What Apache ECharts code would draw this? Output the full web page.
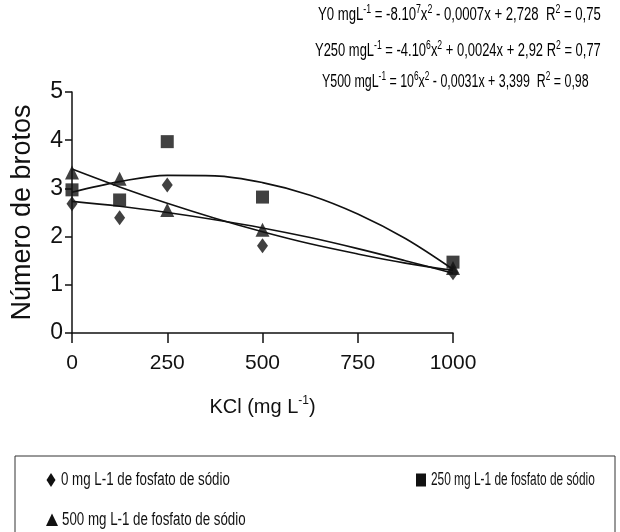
<!DOCTYPE html>
<html>
<head>
<meta charset="utf-8">
<script src="https://cdn.jsdelivr.net/npm/echarts@6/dist/echarts.min.js"></script>
<style>
  html, body { margin: 0; padding: 0; background: #fff; }
  #chart { width: 620px; height: 532px; }
</style>
</head>
<body>
<div id="chart"></div>
<script>
// doses de KCl (mg L-1)
const kcl = [0, 125, 250, 500, 1000]
// número de brotos por dose de fosfato de sódio
const brotos0 = [2.68, 2.39, 3.07, 1.81, 1.25]
const brotos250 = [2.97, 2.76, 3.97, 2.82, 1.47]
const brotos500 = [3.33, 3.2, 2.55, 2.14, 1.35]
// linhas de tendência
const trendX = [0, 125, 250, 375, 500, 625, 750, 875, 1000]
const trend0 = [2.73, 2.63, 2.50, 2.35, 2.18, 1.98, 1.75, 1.50, 1.24]
const trend250 = [2.92, 3.14, 3.27, 3.26, 3.12, 2.86, 2.47, 1.96, 1.32]
const trend500 = [3.40, 3.03, 2.69, 2.38, 2.10, 1.85, 1.64, 1.45, 1.30]

const seriesNames = [
  '0 mg L-1 de fosfato de sódio',
  '250 mg L-1 de fosfato de sódio',
  '500 mg L-1 de fosfato de sódio',
]
const xTicks = [0, 250, 500, 750, 1000]

const font = '"Liberation Sans", Arial, sans-serif'
const ink = '#111'

const pair = (xs, ys) => xs.map((x, i) => [x, ys[i]])

// equações com sobrescritos
const supRich = {
  a: { fontSize: 18, fontFamily: font, color: ink, lineHeight: 23 },
  s: { fontSize: 12, fontFamily: font, color: ink, verticalAlign: 'top' },
}
const equations = [
  '{a|Y0 mgL}{s|-1}{a| = -8.10}{s|7}{a|x}{s|2}{a| - 0,0007x + 2,728  R}{s|2}{a| = 0,75}',
  '{a|Y250 mgL}{s|-1}{a| = -4.10}{s|6}{a|x}{s|2}{a| + 0,0024x + 2,92 R}{s|2}{a| = 0,77}',
  '{a|Y500 mgL}{s|-1}{a| = 10}{s|6}{a|x}{s|2}{a| - 0,0031x + 3,399  R}{s|2}{a| = 0,98}',
]
const eqPos = [[318, 4], [315, 40], [322, 71]]
const eqScale = [0.73, 0.72, 0.69]

const chart = echarts.init(document.getElementById('chart'))

const trendSeries = [trend0, trend250, trend500].map(t => ({
  type: 'line',
  data: pair(trendX, t),
  smooth: 0.35,
  showSymbol: false,
  lineStyle: { color: ink, width: 1.6 },
  silent: true,
  z: 2,
}))

const symbols = ['diamond', 'rect', 'triangle']
const sizes = [[11, 15], 13, 14]
const pointSeries = [brotos0, brotos250, brotos500].map((b, i) => ({
  name: seriesNames[i],
  type: 'scatter',
  data: pair(kcl, b),
  symbol: symbols[i],
  symbolSize: sizes[i],
  itemStyle: { color: ink },
  z: 3,
}))

// legenda desenhada à mão (texto condensado)
const legendPos = [[51, 480], [421, 480], [52, 520]]
const legendScale = [0.74, 0.66, 0.74]
const legendIcons = [
  { type: 'polygon', shape: { points: [[0, -7], [4.5, 0], [0, 7], [-4.5, 0]] } },
  { type: 'rect', shape: { x: -5, y: -6.5, width: 10, height: 13 } },
  { type: 'polygon', shape: { points: [[0, -6.5], [6, 6], [-6, 6]] } },
]
const legendGraphics = seriesNames.map((n, i) => ({
  type: 'group',
  x: legendPos[i][0],
  y: legendPos[i][1],
  silent: true,
  children: [
    { ...legendIcons[i], style: { fill: ink } },
    {
      type: 'text',
      x: 10,
      y: 0,
      scaleX: legendScale[i],
      style: {
        text: n, fill: ink, fontSize: 18, fontFamily: font,
        verticalAlign: 'middle', align: 'left',
      },
    },
  ],
}))

const option = {
  animation: false,
  backgroundColor: '#fff',
  grid: { left: 72, right: 167, top: 92, bottom: 199 },
  xAxis: {
    type: 'value',
    min: 0,
    max: 1000,
    interval: 250,
    splitLine: { show: false },
    axisLine: { lineStyle: { color: ink, width: 1.5 } },
    axisTick: { length: 10, lineStyle: { color: ink, width: 1.5 } },
    axisLabel: {
      color: ink, fontSize: 21, fontFamily: font, margin: 20,
      formatter: v => (xTicks.includes(v) ? String(v) : ''),
    },
    name: '{a|KCl (mg L}{s|-1}{a|)}',
    nameLocation: 'middle',
    nameGap: 62,
    nameTextStyle: {
      rich: {
        a: { fontSize: 20, fontFamily: font, color: ink, lineHeight: 24 },
        s: { fontSize: 12, fontFamily: font, color: ink, verticalAlign: 'top' },
      },
    },
  },
  yAxis: {
    type: 'value',
    min: 0,
    max: 5,
    interval: 1,
    splitLine: { show: false },
    axisLine: { show: true, lineStyle: { color: ink, width: 1.5 } },
    axisTick: { show: true, length: 7, lineStyle: { color: ink, width: 1.5 } },
    axisLabel: { color: ink, fontSize: 23, fontFamily: font, margin: 9 },
    name: 'Número de brotos',
    nameLocation: 'middle',
    nameGap: 36,
    nameTextStyle: { color: ink, fontSize: 27, fontFamily: font },
  },
  graphic: [
    {
      type: 'rect',
      shape: { x: 15, y: 456, width: 600, height: 90 },
      style: { fill: 'none', stroke: '#333', lineWidth: 1 },
      silent: true,
    },
    ...legendGraphics,
    ...equations.map((t, i) => ({
      type: 'text',
      x: eqPos[i][0],
      y: eqPos[i][1],
      scaleX: eqScale[i],
      style: { text: t, rich: supRich },
      silent: true,
    })),
  ],
  series: [...trendSeries, ...pointSeries],
}

chart.setOption(option)
</script>
</body>
</html>
